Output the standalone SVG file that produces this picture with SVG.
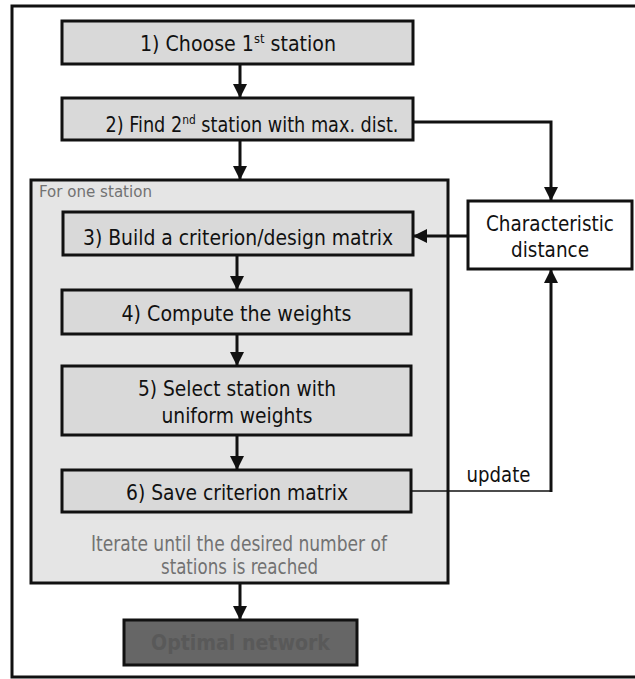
<svg xmlns="http://www.w3.org/2000/svg" width="635" height="679" viewBox="0 0 635 679">
<defs>
<style>
text{font-family:"DejaVu Sans Condensed","DejaVu Sans",sans-serif;font-size:21.5px;fill:#111;text-anchor:middle}
.box{fill:#d9d9d9;stroke:#111;stroke-width:3}
.grp{fill:#e5e5e5;stroke:#111;stroke-width:3}
.wbox{fill:#fff;stroke:#111;stroke-width:3}
.dark{fill:#666;stroke:#111;stroke-width:3}
.gtxt{fill:#727272}
.sm{font-size:15.5px;text-anchor:start}
.conn{fill:none;stroke:#111;stroke-width:3}
.thin{fill:none;stroke:#111;stroke-width:1.5}
</style>
<marker id="ah" markerUnits="userSpaceOnUse" markerWidth="14" markerHeight="14" viewBox="0 0 14 14" refX="14" refY="7" orient="auto">
<path d="M0,0 L14,7 L0,14 Z" fill="#111"/>
</marker>
</defs>
<rect x="12" y="6" width="640" height="671" fill="#fff" stroke="#111" stroke-width="3"/>
<g id="group-loop">
<rect class="grp" x="31" y="180" width="417" height="403"/>
<text class="gtxt sm" x="39" y="197" textLength="113" lengthAdjust="spacingAndGlyphs">For one station</text>
<text class="gtxt" x="239" y="551" textLength="296" lengthAdjust="spacingAndGlyphs">Iterate until the desired number of</text>
<text class="gtxt" x="239.5" y="574" textLength="157" lengthAdjust="spacingAndGlyphs">stations is reached</text>
</g>
<g id="node1">
<rect class="box" x="62" y="21" width="351" height="43"/>
<text x="238" y="51" textLength="196" lengthAdjust="spacingAndGlyphs">1) Choose 1<tspan font-size="13" dy="-8">st</tspan><tspan dy="8"> station</tspan></text>
</g>
<g id="node2">
<rect class="box" x="62" y="98" width="351" height="42"/>
<text x="252" y="132" textLength="293" lengthAdjust="spacingAndGlyphs">2) Find 2<tspan font-size="13" dy="-8">nd</tspan><tspan dy="8"> station with max. dist.</tspan></text>
</g>
<g id="node3">
<rect class="box" x="63" y="212" width="350" height="43"/>
<text x="238" y="245" textLength="310" lengthAdjust="spacingAndGlyphs">3) Build a criterion/design matrix</text>
</g>
<g id="node4">
<rect class="box" x="62" y="290" width="349" height="44"/>
<text x="236.5" y="321" textLength="230" lengthAdjust="spacingAndGlyphs">4) Compute the weights</text>
</g>
<g id="node5">
<rect class="box" x="62" y="366" width="349" height="69"/>
<text x="237" y="396" textLength="198" lengthAdjust="spacingAndGlyphs">5) Select station with</text>
<text x="237" y="423" textLength="151" lengthAdjust="spacingAndGlyphs">uniform weights</text>
</g>
<g id="node6">
<rect class="box" x="62" y="470" width="349" height="42"/>
<text x="237" y="500" textLength="222" lengthAdjust="spacingAndGlyphs">6) Save criterion matrix</text>
</g>
<g id="node-char">
<rect class="wbox" x="468" y="201" width="164" height="68"/>
<text x="550" y="231" textLength="128" lengthAdjust="spacingAndGlyphs">Characteristic</text>
<text x="550" y="257" textLength="78" lengthAdjust="spacingAndGlyphs">distance</text>
</g>
<g id="node-optimal">
<rect class="dark" x="124" y="620" width="233" height="45"/>
<text x="240.5" y="650" style="fill:#595959;font-weight:bold" textLength="179" lengthAdjust="spacingAndGlyphs">Optimal network</text>
</g>
<g id="connectors">
<path class="conn" d="M240,64 V98" marker-end="url(#ah)"/>
<path class="conn" d="M240,140 V180" marker-end="url(#ah)"/>
<path class="conn" d="M413,122 H551 V201" marker-end="url(#ah)"/>
<path class="conn" d="M468,236 H413" marker-end="url(#ah)"/>
<path class="conn" d="M237,255 V290" marker-end="url(#ah)"/>
<path class="conn" d="M237,334 V366" marker-end="url(#ah)"/>
<path class="conn" d="M237,435 V470" marker-end="url(#ah)"/>
<path class="conn" d="M240,583 V620" marker-end="url(#ah)"/>
<path class="thin" d="M411,491 H551"/>
<path class="conn" d="M551,492 V269" marker-end="url(#ah)"/>
<text x="498.5" y="482" textLength="64" lengthAdjust="spacingAndGlyphs">update</text>
</g>
</svg>
